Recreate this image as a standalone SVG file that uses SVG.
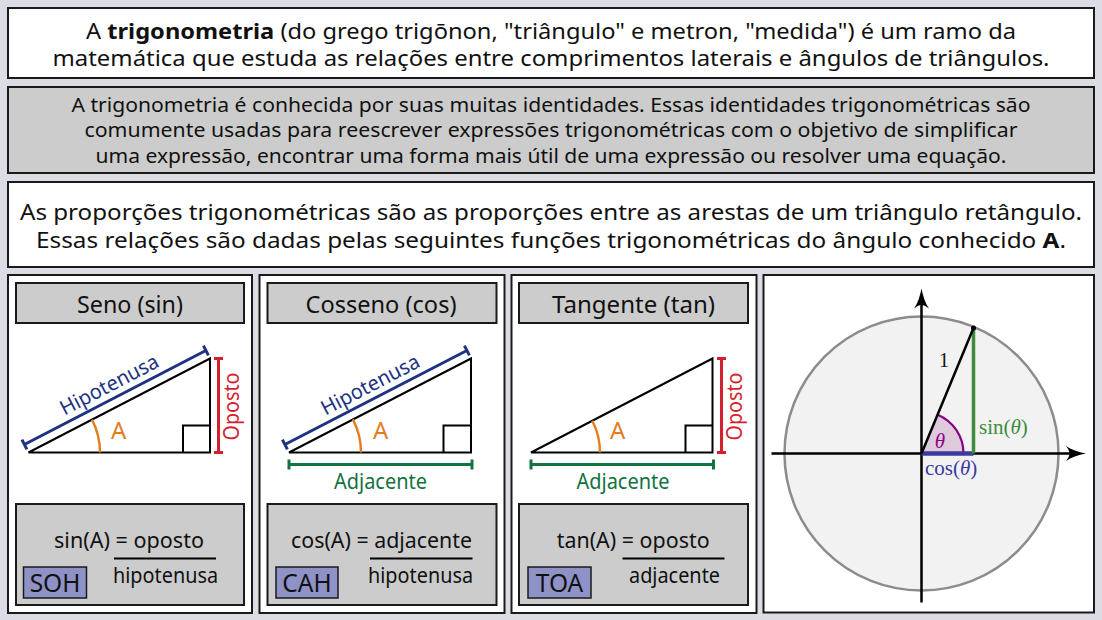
<svg xmlns="http://www.w3.org/2000/svg" width="1102" height="620" viewBox="0 0 1102 620">
<style>
.box{stroke:#1a1a1a;stroke-width:2}
.w{fill:#fff}
.g{fill:#cccccc}
.t{font-family:"Noto Sans","Open Sans",sans-serif;fill:#111}
.c{text-anchor:middle}
.tri{fill:none;stroke:#000;stroke-width:2}
.hyp{stroke:#1e3282;stroke-width:3;fill:none}
.opp{stroke:#d41f2e;stroke-width:3;fill:none}
.adj{stroke:#127240;stroke-width:3;fill:none}
.arc{stroke:#e37d1e;stroke-width:2.4;fill:none}
.ang{fill:#e37d1e;font-size:24px}
.frac{stroke:#000;stroke-width:2}
.lbl{fill:#8e92c7;stroke:#1a1a1a;stroke-width:1.5}
.lt{font-size:24.5px}
.m{font-family:"Liberation Serif","Times New Roman",serif}
</style>
<defs>
<path id="ah" d="M0 0 C-8 1.5 -15 4 -20 7.5 C-17.5 4.5 -16.5 2 -16.5 0 C-16.5 -2 -17.5 -4.5 -20 -7.5 C-15 -4 -8 -1.5 0 0 Z" fill="#000"/>
</defs>
<rect x="0" y="0" width="1102" height="620" fill="#dcdce4"/>

<g id="intro">
<rect class="box w" x="8" y="8" width="1086" height="70"/>
<text class="t c" x="551" y="38.5" font-size="22" textLength="930" lengthAdjust="spacingAndGlyphs">A <tspan font-weight="bold">trigonometria</tspan> (do grego trigōnon, "triângulo" e metron, "medida") é um ramo da</text>
<text class="t c" x="551" y="66" font-size="22" textLength="997" lengthAdjust="spacingAndGlyphs">matemática que estuda as relações entre comprimentos laterais e ângulos de triângulos.</text>
</g>

<g id="identidades">
<rect class="box g" x="8" y="87" width="1086" height="86"/>
<text class="t c" x="551" y="111.5" font-size="19.5" textLength="959" lengthAdjust="spacingAndGlyphs">A trigonometria é conhecida por suas muitas identidades. Essas identidades trigonométricas são</text>
<text class="t c" x="551" y="137" font-size="19.5" textLength="933" lengthAdjust="spacingAndGlyphs">comumente usadas para reescrever expressões trigonométricas com o objetivo de simplificar</text>
<text class="t c" x="551" y="162.5" font-size="19.5" textLength="911" lengthAdjust="spacingAndGlyphs">uma expressão, encontrar uma forma mais útil de uma expressão ou resolver uma equação.</text>
</g>

<g id="proporcoes">
<rect class="box w" x="8" y="182" width="1086" height="85"/>
<text class="t c" x="551" y="220" font-size="21.5" textLength="1062" lengthAdjust="spacingAndGlyphs">As proporções trigonométricas são as proporções entre as arestas de um triângulo retângulo.</text>
<text class="t c" x="551" y="247.5" font-size="21.5" textLength="1030" lengthAdjust="spacingAndGlyphs">Essas relações são dadas pelas seguintes funções trigonométricas do ângulo conhecido <tspan font-weight="bold">A</tspan>.</text>
</g>

<g id="seno">
<rect class="box w" x="8" y="275" width="244" height="338"/>
<rect class="box g" x="16" y="283" width="228" height="40"/>
<text class="t c" x="130" y="313" font-size="23" textLength="106" lengthAdjust="spacingAndGlyphs">Seno (sin)</text>
<path class="tri" d="M28.5 452.5 H210 V358.5 Z"/>
<path class="tri" d="M183 452.5 V425.5 H210"/>
<path class="arc" d="M100 452.5 A71.5 71.5 0 0 0 92 419.6"/>
<text class="t ang" x="111" y="439">A</text>
<path class="hyp" d="M24.4 444.5 L205.9 350.5 M21.9 439.6 L26.9 449.4 M203.4 345.6 L208.4 355.4"/>
<text class="t c" transform="translate(112.5 391) rotate(-27.4)" font-size="20.5" style="fill:#1e3282" textLength="108" lengthAdjust="spacingAndGlyphs">Hipotenusa</text>
<path class="opp" d="M218.5 358.5 V452.5 M214 358.5 H223 M214 452.5 H223"/>
<text class="t c" transform="translate(238.5 406.5) rotate(-90)" font-size="21" style="fill:#d41f2e" textLength="68" lengthAdjust="spacingAndGlyphs">Oposto</text>
<rect class="box g" x="16" y="504" width="228" height="101"/>
<text class="t" x="54" y="548" font-size="21.5" textLength="150" lengthAdjust="spacingAndGlyphs">sin(A) = oposto</text>
<line class="frac" x1="114" y1="558.5" x2="216" y2="558.5"/>
<text class="t" x="113" y="583" font-size="21.5" textLength="105" lengthAdjust="spacingAndGlyphs">hipotenusa</text>
<rect class="lbl" x="23.5" y="567" width="63" height="31"/>
<text class="t c lt" x="55" y="591.5">SOH</text>
</g>

<g id="cosseno">
<rect class="box w" x="259.5" y="275" width="245" height="338"/>
<rect class="box g" x="267.5" y="283" width="229" height="40"/>
<text class="t c" x="381" y="313" font-size="23" textLength="151" lengthAdjust="spacingAndGlyphs">Cosseno (cos)</text>
<path class="tri" d="M289 452.5 H471 V358.5 Z"/>
<path class="tri" d="M443.5 452.5 V425.5 H471"/>
<path class="arc" d="M361 452.5 A72 72 0 0 0 352.9 419.4"/>
<text class="t ang" x="373" y="439">A</text>
<path class="hyp" d="M284.9 444.5 L466.9 350.5 M282.4 439.6 L287.4 449.4 M464.4 345.6 L469.4 355.4"/>
<text class="t c" transform="translate(373.5 391) rotate(-27.4)" font-size="20.5" style="fill:#1e3282" textLength="108" lengthAdjust="spacingAndGlyphs">Hipotenusa</text>
<path class="adj" d="M289 464.5 H472 M289 459.5 V469.5 M472 459.5 V469.5"/>
<text class="t c" x="380.5" y="489" font-size="21" style="fill:#127240" textLength="93" lengthAdjust="spacingAndGlyphs">Adjacente</text>
<rect class="box g" x="267.5" y="504" width="229" height="101"/>
<text class="t" x="291" y="548" font-size="21.5" textLength="181" lengthAdjust="spacingAndGlyphs">cos(A) = adjacente</text>
<line class="frac" x1="370" y1="558.5" x2="472.5" y2="558.5"/>
<text class="t" x="368" y="583" font-size="21.5" textLength="105" lengthAdjust="spacingAndGlyphs">hipotenusa</text>
<rect class="lbl" x="276" y="567" width="62" height="31"/>
<text class="t c lt" x="307" y="591.5">CAH</text>
</g>

<g id="tangente">
<rect class="box w" x="511.5" y="275" width="245" height="338"/>
<rect class="box g" x="519" y="283" width="229" height="40"/>
<text class="t c" x="633.5" y="313" font-size="23" textLength="163" lengthAdjust="spacingAndGlyphs">Tangente (tan)</text>
<path class="tri" d="M531 452.5 H712.5 V358.5 Z"/>
<path class="tri" d="M685.5 452.5 V425.5 H712.5"/>
<path class="arc" d="M600 452.5 A69 69 0 0 0 592.3 420.8"/>
<text class="t ang" x="610" y="439">A</text>
<path class="opp" d="M721.5 358.5 V452.5 M717 358.5 H726 M717 452.5 H726"/>
<text class="t c" transform="translate(741.5 406.5) rotate(-90)" font-size="21" style="fill:#d41f2e" textLength="68" lengthAdjust="spacingAndGlyphs">Oposto</text>
<path class="adj" d="M531 464.5 H713.5 M531 459.5 V469.5 M713.5 459.5 V469.5"/>
<text class="t c" x="623" y="489" font-size="21" style="fill:#127240" textLength="93" lengthAdjust="spacingAndGlyphs">Adjacente</text>
<rect class="box g" x="519" y="504" width="229" height="101"/>
<text class="t" x="556.7" y="548" font-size="21.5" textLength="153" lengthAdjust="spacingAndGlyphs">tan(A) = oposto</text>
<line class="frac" x1="622.5" y1="558.5" x2="724.5" y2="558.5"/>
<text class="t" x="629" y="583" font-size="21.5" textLength="91" lengthAdjust="spacingAndGlyphs">adjacente</text>
<rect class="lbl" x="528" y="567" width="63" height="31"/>
<text class="t c lt" x="559.5" y="591.5">TOA</text>
</g>

<g id="circulo-unitario">
<rect class="box w" x="763.5" y="275" width="330.5" height="337.5"/>
<circle cx="921.5" cy="453.5" r="137" fill="#f2f2f2" stroke="#8c8c8c" stroke-width="2.5"/>
<path d="M921.5 453.5 L963.5 453.5 A42 42 0 0 0 937.6 414.7 Z" fill="#dfcadc"/>
<path d="M963.5 453.5 A42 42 0 0 0 937.6 414.7" fill="none" stroke="#880088" stroke-width="2.2"/>
<path d="M771.5 453.5 H1072 M921.5 602.5 V302" stroke="#000" stroke-width="2.5" fill="none"/>
<use href="#ah" transform="translate(1086 453.5)"/>
<use href="#ah" transform="translate(921.5 288.5) rotate(-90)"/>
<path d="M921.5 453.5 H973.5" stroke="#3a3aa0" stroke-width="4.5"/>
<path d="M973.5 327.9 V453.5" stroke="#3c8c3c" stroke-width="3.5"/>
<path d="M921.5 453.5 L973.5 327.9" stroke="#000" stroke-width="2.5"/>
<circle cx="973.5" cy="327.9" r="2.5" fill="#000"/>
<text class="m c" x="944" y="367" font-size="20" fill="#111">1</text>
<text class="m c" x="940" y="448" font-size="21" font-style="italic" fill="#880088">θ</text>
<text class="m" x="979" y="434" font-size="21" fill="#3c8c3c">sin(<tspan font-style="italic">θ</tspan>)</text>
<text class="m" x="925" y="475" font-size="21" fill="#3a3aa0">cos(<tspan font-style="italic">θ</tspan>)</text>
</g>
</svg>
